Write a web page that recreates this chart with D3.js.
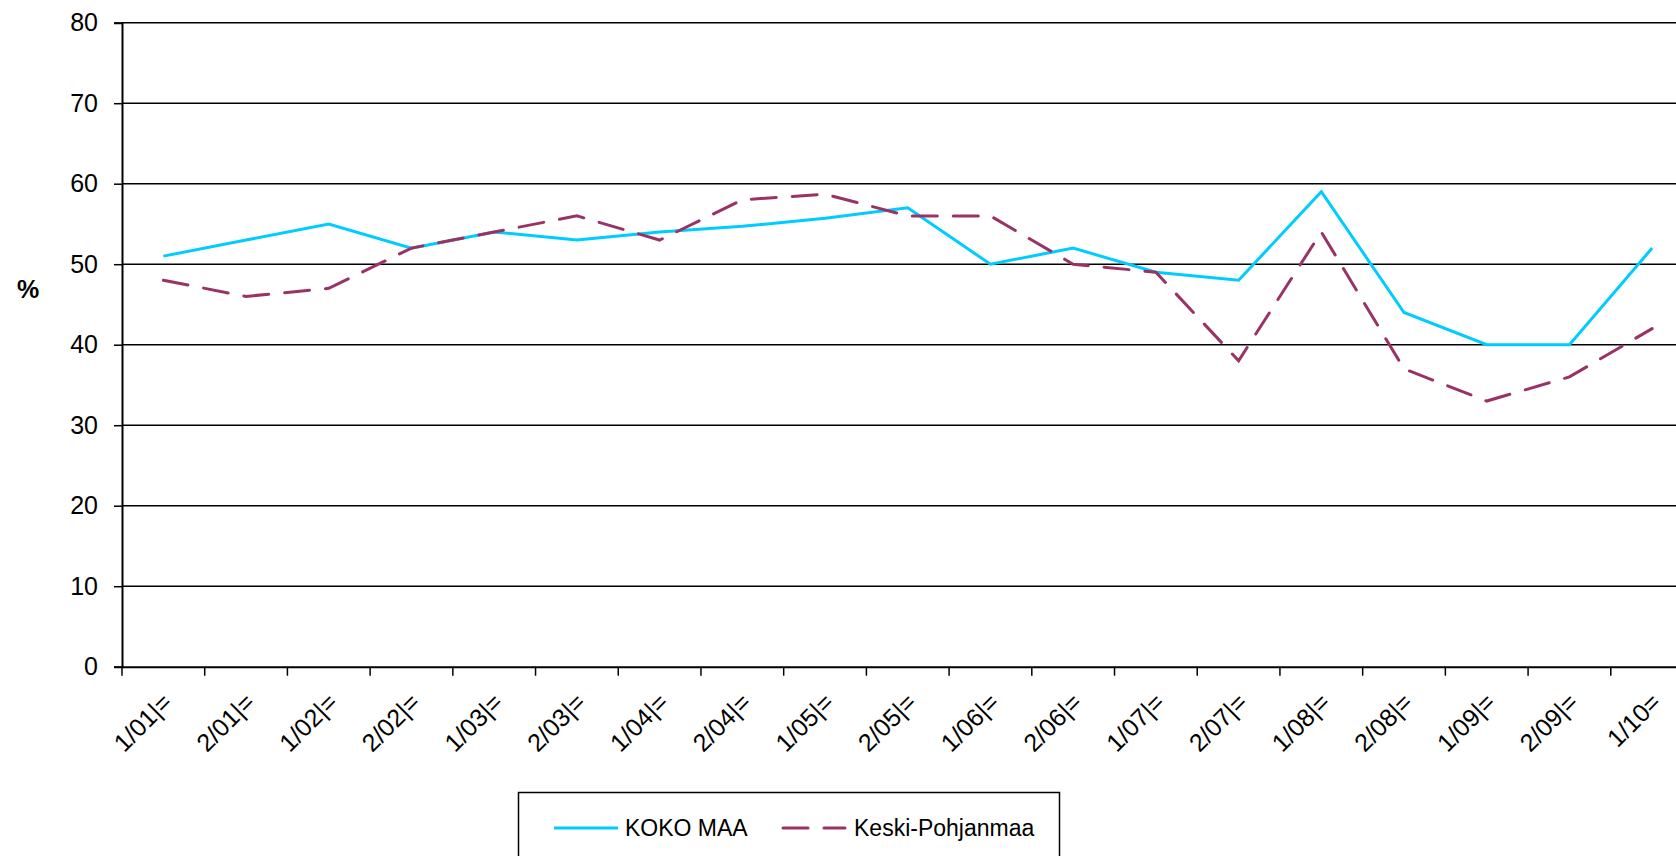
<!DOCTYPE html>
<html>
<head>
<meta charset="utf-8">
<script src="https://cdn.jsdelivr.net/npm/d3@7"></script>
<style>
    body { margin: 0; background: #fff; }
    svg { display: block; }
    text { font-family: "Liberation Sans", Arial, sans-serif; fill: #000; }
</style>
</head>
<body>
<svg id="chart" width="1676" height="856"></svg>
<script>
    // categories (half-year periods) and the two series
    const categories = [
        '1/01|=', '2/01|=', '1/02|=', '2/02|=', '1/03|=', '2/03|=', '1/04|=',
        '2/04|=', '1/05|=', '2/05|=', '1/06|=', '2/06|=', '1/07|=', '2/07|=',
        '1/08|=', '2/08|=', '1/09|=', '2/09|=', '1/10=',
    ];
    const kokoMaa = [51, 53, 55, 52, 54, 53, 54, 54.7, 55.7, 57, 50, 52, 49, 48, 59, 44, 40, 40, 52];
    const keskiPohjanmaa = [48, 46, 47, 52, 54, 56, 53, 58, 58.7, 56, 56, 50, 49, 38, 54, 37, 33, 36, 42];
    const yTicks = [0, 10, 20, 30, 40, 50, 60, 70, 80];
    const seriesNames = ['KOKO MAA', 'Keski-Pohjanmaa'];

    const svg = d3.select('#chart');
    const plotLeft = 122, plotRight = 1693.5, plotTop = 22.7, plotBottom = 666.7;

    const x = d3.scaleBand().domain(categories).range([plotLeft, plotRight]);
    const y = d3.scaleLinear().domain([0, 80]).range([plotBottom, plotTop]);

    // horizontal gridlines
    svg.append('g')
        .selectAll('line')
        .data(yTicks.filter(d => d > 0))
        .join('line')
        .attr('x1', plotLeft).attr('x2', plotRight)
        .attr('y1', d => y(d)).attr('y2', d => y(d))
        .attr('stroke', '#000')
        .attr('stroke-width', 1.5);

    // y axis
    const yAxis = svg.append('g')
        .attr('transform', `translate(${plotLeft},0)`)
        .call(d3.axisLeft(y).tickValues(yTicks).tickSize(8).tickPadding(16));
    yAxis.select('.domain').attr('stroke', '#000').attr('stroke-width', 2);
    yAxis.selectAll('.tick line').attr('stroke', '#000').attr('stroke-width', 1.5);
    yAxis.selectAll('text').attr('font-size', 25).attr('font-family', null);

    // x axis, ticks between categories
    const xAxis = svg.append('g')
        .attr('transform', `translate(0,${plotBottom})`)
        .call(d3.axisBottom(x).tickSize(0).tickFormat(''));
    xAxis.select('.domain').attr('stroke', '#000').attr('stroke-width', 2);
    xAxis.selectAll('.tick').remove();

    const bounds = categories.map(c => x(c)).concat([plotRight]);
    svg.append('g')
        .selectAll('line')
        .data(bounds)
        .join('line')
        .attr('x1', d => d).attr('x2', d => d)
        .attr('y1', plotBottom).attr('y2', plotBottom + 9)
        .attr('stroke', '#000')
        .attr('stroke-width', 1.5);

    svg.append('g')
        .selectAll('text')
        .data(categories)
        .join('text')
        .attr('transform', d => `translate(${x(d) + x.bandwidth() / 2 + 4},${plotBottom + 31}) rotate(-45)`)
        .attr('text-anchor', 'end')
        .attr('dy', '0.35em')
        .attr('font-size', 25)
        .text(d => d);

    // "%" axis title
    svg.append('text')
        .attr('x', 28).attr('y', 289)
        .attr('text-anchor', 'middle')
        .attr('dy', '0.35em')
        .attr('font-size', 25)
        .attr('font-weight', 'bold')
        .text('%');

    const line = d3.line()
        .x((d, i) => x(categories[i]) + x.bandwidth() / 2)
        .y(d => y(d));

    svg.append('path')
        .datum(kokoMaa)
        .attr('d', line)
        .attr('fill', 'none')
        .attr('stroke', '#00ccff')
        .attr('stroke-width', 3);

    svg.append('path')
        .datum(keskiPohjanmaa)
        .attr('d', line)
        .attr('fill', 'none')
        .attr('stroke', '#993366')
        .attr('stroke-width', 3)
        .attr('stroke-linecap', 'round')
        .attr('stroke-dasharray', '25,16');

    // legend
    const legend = svg.append('g');
    legend.append('rect')
        .attr('x', 518.5).attr('y', 792.5)
        .attr('width', 541).attr('height', 100)
        .attr('fill', '#fff')
        .attr('stroke', '#000')
        .attr('stroke-width', 1.5);

    const ly = 828;
    legend.append('line')
        .attr('x1', 554).attr('x2', 618).attr('y1', ly).attr('y2', ly)
        .attr('stroke', '#00ccff').attr('stroke-width', 3);
    legend.append('text')
        .attr('x', 625).attr('y', ly).attr('dy', '0.35em')
        .attr('font-size', 23)
        .text(seriesNames[0]);

    legend.append('line')
        .attr('x1', 783).attr('x2', 845).attr('y1', ly).attr('y2', ly)
        .attr('stroke', '#993366').attr('stroke-width', 3)
        .attr('stroke-linecap', 'round')
        .attr('stroke-dasharray', '25,16');
    legend.append('text')
        .attr('x', 854).attr('y', ly).attr('dy', '0.35em')
        .attr('font-size', 23)
        .text(seriesNames[1]);
</script>
</body>
</html>
